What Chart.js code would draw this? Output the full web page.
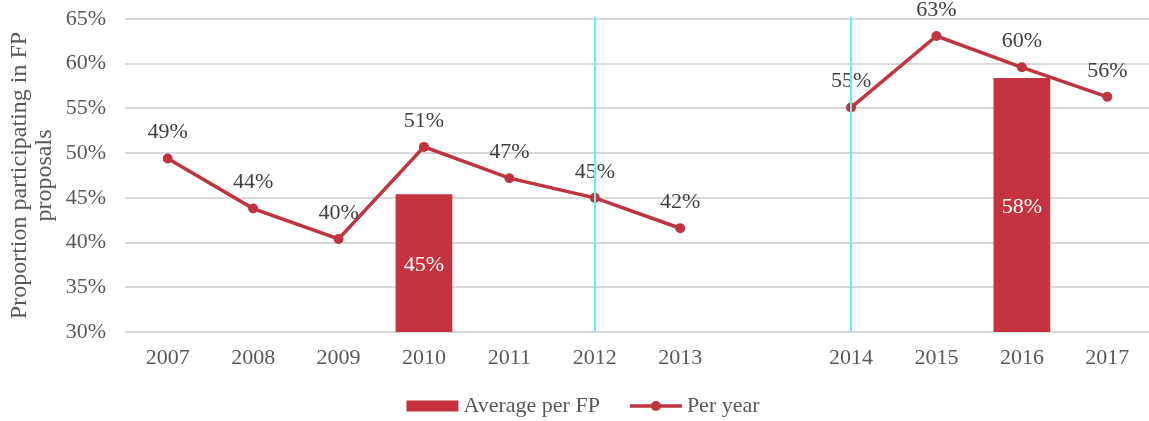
<!DOCTYPE html>
<html>
<head>
<meta charset="utf-8">
<script src="https://cdn.jsdelivr.net/npm/chart.js@4/dist/chart.umd.min.js"></script>
<style>
  html, body { margin: 0; padding: 0; background: #fff; overflow: hidden; }
  #wrap { position: relative; width: 1155px; height: 421px; }
</style>
</head>
<body>
<div id="wrap"><canvas id="c"></canvas></div>
<script>
const categories = ['2007','2008','2009','2010','2011','2012','2013','','2014','2015','2016','2017'];
const perYear = [49.4, 43.8, 40.4, 50.7, 47.2, 45.0, 41.6, null, 55.1, 63.1, 59.6, 56.3];
const averagePerFP = [null, null, null, 45.4, null, null, null, null, null, null, 58.4, null];
const yMin = 30, yMax = 65, yStep = 5;
const dividerYears = ['2012', '2014'];
const seriesNames = ['Average per FP', 'Per year'];
const yTitle = ['Proportion participating in FP', 'proposals'];

const FONT = "'Liberation Serif', serif";
const FS = 22;
const RED_LINE = '#c0343f';
const RED_BAR = '#c3343f';
const TXT = '#595959';

const labelsPlugin = {
  id: 'valueLabels',
  afterDatasetsDraw(chart) {
    const ctx = chart.ctx;
    const ys = chart.scales.y;
    ctx.save();
    ctx.font = FS + 'px ' + FONT;
    ctx.textAlign = 'center';
    ctx.textBaseline = 'middle';
    chart.data.datasets.forEach((ds, i) => {
      const meta = chart.getDatasetMeta(i);
      meta.data.forEach((el, j) => {
        const v = ds.data[j];
        if (v === null || v === undefined) return;
        const txt = Math.round(v) + '%';
        if (ds.type === 'bar') {
          const top = ys.getPixelForValue(v);
          const base = ys.getPixelForValue(yMin);
          ctx.fillStyle = '#ffffff';
          ctx.fillText(txt, el.x, (top + base) / 2 + 2);
        } else {
          ctx.fillStyle = '#404040';
          ctx.fillText(txt, el.x, el.y - 26);
        }
      });
    });
    ctx.restore();
  },
  afterDraw(chart) {
    const ctx = chart.ctx;
    const xs = chart.scales.x;
    const area = chart.chartArea;
    ctx.save();
    ctx.strokeStyle = '#66f0f0';
    ctx.lineWidth = 2;
    dividerYears.forEach(y => {
      const idx = categories.indexOf(y);
      const px = Math.round(xs.getPixelForValue(idx));
      ctx.beginPath();
      ctx.moveTo(px, area.top - 2);
      ctx.lineTo(px, area.bottom);
      ctx.stroke();
    });
    // custom legend
    ctx.font = FS + 'px ' + FONT;
    ctx.textBaseline = 'middle';
    ctx.textAlign = 'left';
    const ly = 406;
    const boxW = 52, gap = 5, between = 30;
    const w1 = ctx.measureText(seriesNames[0]).width;
    const w2 = ctx.measureText(seriesNames[1]).width;
    const total = boxW + gap + w1 + between + boxW + gap + w2;
    let x = 583 - total / 2;
    ctx.fillStyle = RED_BAR;
    ctx.fillRect(x, ly - 5.5, boxW, 11);
    x += boxW + gap;
    ctx.fillStyle = TXT;
    ctx.fillText(seriesNames[0], x, ly);
    x += w1 + between;
    ctx.strokeStyle = RED_LINE;
    ctx.lineWidth = 3.5;
    ctx.beginPath();
    ctx.moveTo(x, ly);
    ctx.lineTo(x + boxW, ly);
    ctx.stroke();
    ctx.fillStyle = RED_LINE;
    ctx.beginPath();
    ctx.arc(x + boxW / 2, ly, 5, 0, Math.PI * 2);
    ctx.fill();
    x += boxW + gap;
    ctx.fillStyle = TXT;
    ctx.fillText(seriesNames[1], x, ly);
    ctx.restore();
  }
};

new Chart(document.getElementById('c'), {
  data: {
    labels: categories,
    datasets: [
      {
        type: 'bar',
        label: seriesNames[0],
        data: averagePerFP,
        backgroundColor: RED_BAR,
        borderWidth: 0,
        categoryPercentage: 1,
        barPercentage: 0.664,
        order: 2
      },
      {
        type: 'line',
        label: seriesNames[1],
        data: perYear,
        borderColor: RED_LINE,
        backgroundColor: RED_LINE,
        borderWidth: 3.5,
        pointRadius: 5,
        pointBackgroundColor: RED_LINE,
        pointBorderWidth: 0,
        spanGaps: false,
        tension: 0,
        order: 1
      }
    ]
  },
  options: {
    responsive: true,
    maintainAspectRatio: false,
    animation: false,
    layout: { padding: { top: 19, right: 0, left: 0, bottom: 49 } },
    plugins: {
      legend: { display: false },
      tooltip: { enabled: false }
    },
    scales: {
      x: {
        offset: true,
        grid: { display: false, drawTicks: false },
        border: { display: false },
        ticks: { color: TXT, font: { family: FONT, size: FS }, padding: 13, maxRotation: 0, autoSkip: false },
        afterFit(s) { s.height = 40; s.paddingLeft = 0; s.paddingRight = 0; }
      },
      y: {
        min: yMin,
        max: yMax,
        grid: { color: '#d9d9d9', lineWidth: 2, drawTicks: false },
        border: { display: false },
        ticks: {
          stepSize: yStep,
          color: TXT,
          padding: 19,
          font: { family: FONT, size: FS },
          callback: v => v + '%'
        },
        title: {
          display: true,
          text: yTitle,
          color: TXT,
          font: { family: FONT, size: 24, lineHeight: 1.05 },
          padding: { top: 7, bottom: 0 }
        },
        afterFit(s) { s.width = 125; s.paddingTop = 10; s.paddingBottom = 0; }
      }
    }
  },
  plugins: [labelsPlugin]
});
</script>
</body>
</html>
